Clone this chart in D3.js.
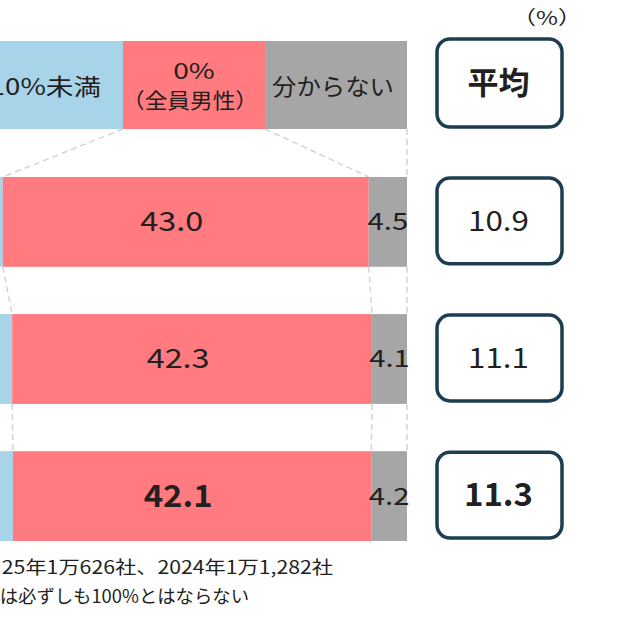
<!DOCTYPE html>
<html>
<head>
<meta charset="utf-8">
<script src="https://cdn.jsdelivr.net/npm/d3@7"></script>
<style>
  body { margin: 0; background: #fff; }
  svg { display: block; }
  text { font-family: 'Noto Sans CJK JP', 'Noto Sans', sans-serif; fill: #231f20; }
</style>
</head>
<body>
<script>
// rows (the year labels sit off the left edge of the crop)
const years = ['2023年', '2024年', '2025年']
// share of companies, %
const zeroShare = [43.0, 42.3, 42.1]
const unknownShare = [4.5, 4.1, 4.2]
// average ratio, %
const averages = [10.9, 11.1, 11.3]

const legendKeys = ['under10', 'zero', 'unknown']
const legendLabels = [['10%未満'], ['0%', '（全員男性）'], ['分からない']]
const averageTitle = '平均'
const unitLabel = '（%）'
const footnotes = ['25年1万626社、2024年1万1,282社', 'は必ずしも100%とはならない']

const colors = { under10: '#a8d4e9', zero: '#ff7b80', unknown: '#a6a6a6' }
const boxStroke = '#1d3e51'
const dashColor = '#d4d4d4'

const width = 640
const height = 640

const svg = d3.select('body').append('svg')
  .attr('width', width)
  .attr('height', height)

// the source font is wider than Noto, so texts get a small horizontal stretch
function addText (parent, str, cx, cy, opts) {
  const o = Object.assign({ size: 24, weight: 'normal', anchor: 'middle', sx: 1 }, opts)
  return parent.append('text')
    .attr('transform', 'translate(' + cx + ',' + cy + ') scale(' + o.sx + ',1)')
    .attr('dy', '0.35em')
    .attr('text-anchor', o.anchor)
    .attr('font-size', o.size)
    .attr('font-weight', o.weight)
    .text(str)
}

// whole 100% bar runs off the left edge, only its right end is visible
const x = d3.scaleLinear().domain([0, 100]).range([-444, 407])
const y = d3.scaleBand().domain(years).range([177, 541]).paddingInner(0.345)
const legendX = d3.scaleBand().domain(legendKeys).range([-19, 407])
const header = { top: 41, bottom: 129 }
const box = { x: 437, w: 125 }

const table = years.map((year, i) => ({
  year,
  under10: +(100 - zeroShare[i] - unknownShare[i]).toFixed(1),
  zero: zeroShare[i],
  unknown: unknownShare[i]
}))
const series = d3.stack().keys(legendKeys)(table)

// dashed guide lines between matching segment edges
const edges = [[legendX('zero'), legendX('unknown'), legendX.range()[1]]]
table.forEach((row, i) => {
  edges.push([x(series[0][i][1]), x(series[1][i][1]), x(series[2][i][1])])
})
const tops = [header.bottom].concat(years.map(yr => y(yr) + y.bandwidth()))
const nextTops = years.map(yr => y(yr))
const guides = svg.append('g')
for (let r = 0; r < years.length; r++) {
  edges[r].forEach((ex, k) => {
    guides.append('line')
      .attr('x1', ex).attr('y1', tops[r])
      .attr('x2', edges[r + 1][k]).attr('y2', nextTops[r])
      .attr('stroke', dashColor)
      .attr('stroke-width', 1.5)
      .attr('stroke-dasharray', '6,4')
  })
}

// header legend bar
const legend = svg.append('g')
const headerMid = (header.top + header.bottom) / 2
legendKeys.forEach(key => {
  legend.append('rect')
    .attr('x', legendX(key))
    .attr('y', header.top)
    .attr('width', legendX.bandwidth())
    .attr('height', header.bottom - header.top)
    .attr('fill', colors[key])
})
addText(legend, legendLabels[0][0], 101, headerMid + 2, { size: 23, anchor: 'end', sx: 1.2 })
const zeroCx = legendX('zero') + legendX.bandwidth() / 2
addText(legend, legendLabels[1][0], zeroCx, headerMid - 14, { size: 22, sx: 1.28 })
addText(legend, legendLabels[1][1], zeroCx - 4, headerMid + 16, { size: 21, sx: 1.08 })
addText(legend, legendLabels[2][0], legendX('unknown') + legendX.bandwidth() / 2 - 3, headerMid + 2, { size: 23, sx: 1.06 })

// stacked bars
const bars = svg.append('g')
series.forEach(s => {
  bars.selectAll(null)
    .data(s)
    .enter().append('rect')
    .attr('x', d => x(d[0]))
    .attr('y', d => y(d.data.year))
    .attr('width', d => x(d[1]) - x(d[0]))
    .attr('height', y.bandwidth())
    .attr('fill', colors[s.key])
})

const last = years.length - 1
series[1].forEach((d, i) => {
  addText(bars, d.data.zero.toFixed(1), (x(d[0]) + x(d[1])) / 2 - 14, y(d.data.year) + y.bandwidth() / 2,
    i === last ? { size: 31, weight: 'bold', sx: 1.06 } : { size: 27, sx: 1.2 })
})
series[2].forEach(d => {
  addText(bars, d.data.unknown.toFixed(1), (x(d[0]) + x(d[1])) / 2, y(d.data.year) + y.bandwidth() / 2,
    { size: 24, sx: 1.22 })
})

// average boxes
const avg = svg.append('g')
const boxRows = [{ top: 39, h: 88, label: averageTitle, opts: { size: 31, weight: 'bold', sx: 1 } }]
  .concat(years.map((yr, i) => ({
    top: y(yr) + 1,
    h: y.bandwidth() - 4,
    label: averages[i].toFixed(1),
    opts: i === last ? { size: 32, weight: 'bold', sx: 1.03 } : { size: 28, sx: 1.12 }
  })))
boxRows.forEach(b => {
  avg.append('rect')
    .attr('x', box.x)
    .attr('y', b.top)
    .attr('width', box.w)
    .attr('height', b.h)
    .attr('rx', 13)
    .attr('fill', '#fff')
    .attr('stroke', boxStroke)
    .attr('stroke-width', 3.5)
  addText(avg, b.label, box.x + box.w / 2 - 1, b.top + b.h / 2, b.opts)
})

addText(svg, unitLabel, 547, 18, { size: 19, sx: 1.25 })

// notes, cut off on the left like the source
const noteRight = [333, 249]
const noteStretch = [1.18, 1.02]
footnotes.forEach((note, i) => {
  addText(svg, note, noteRight[i], 568 + i * 29, { size: 18, anchor: 'end', sx: noteStretch[i] })
})
</script>
</body>
</html>
